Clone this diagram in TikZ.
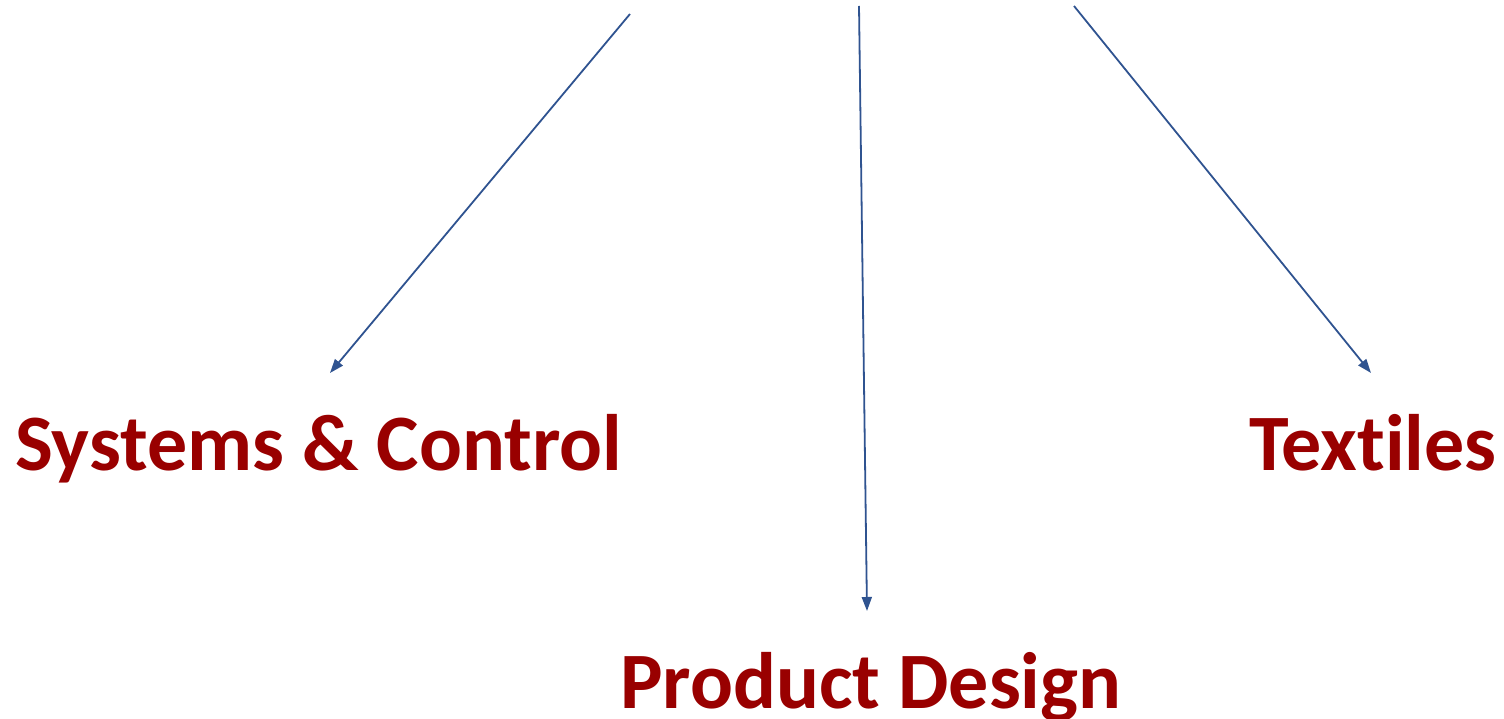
\documentclass[tikz,border=0pt]{standalone}
\usepackage{fontspec}
\setmainfont{Carlito}[Ligatures=NoCommon]
\usepackage{tikz}
\usetikzlibrary{positioning,arrows.meta}

\definecolor{areared}{HTML}{990000}
\definecolor{arrowblue}{HTML}{2F5390}

\begin{document}
\begin{tikzpicture}[x=1pt, y=-1pt, area/.style={text=areared, font=\bfseries\fontsize{80}{86}\selectfont, inner sep=0pt}, link/.style={-{Triangle[length=14pt, width=10pt]}, draw=arrowblue, line width=1.8pt}]
		\useasboundingbox (0,0) rectangle (1504,719);
		\node (sys) [area, anchor=base west] at (15,470) {Systems \& Control};
		\node (tex) [area, anchor=base east] at (1497,470) {Textiles};
		\node (prod) [area, anchor=base west] at (620,708) {Product Design};

		\coordinate (top left) at (630,14);
		\coordinate (top mid) at (859,6);
		\coordinate (top right) at (1074,6);
		\coordinate (sys tip) at (330,373);
		\coordinate (prod tip) at (867,611);
		\coordinate (tex tip) at (1371,373);

		\draw[link] (top left) -- (sys tip);
		\draw[link] (top mid) -- (prod tip);
		\draw[link] (top right) -- (tex tip);
	\end{tikzpicture}
\end{document}
